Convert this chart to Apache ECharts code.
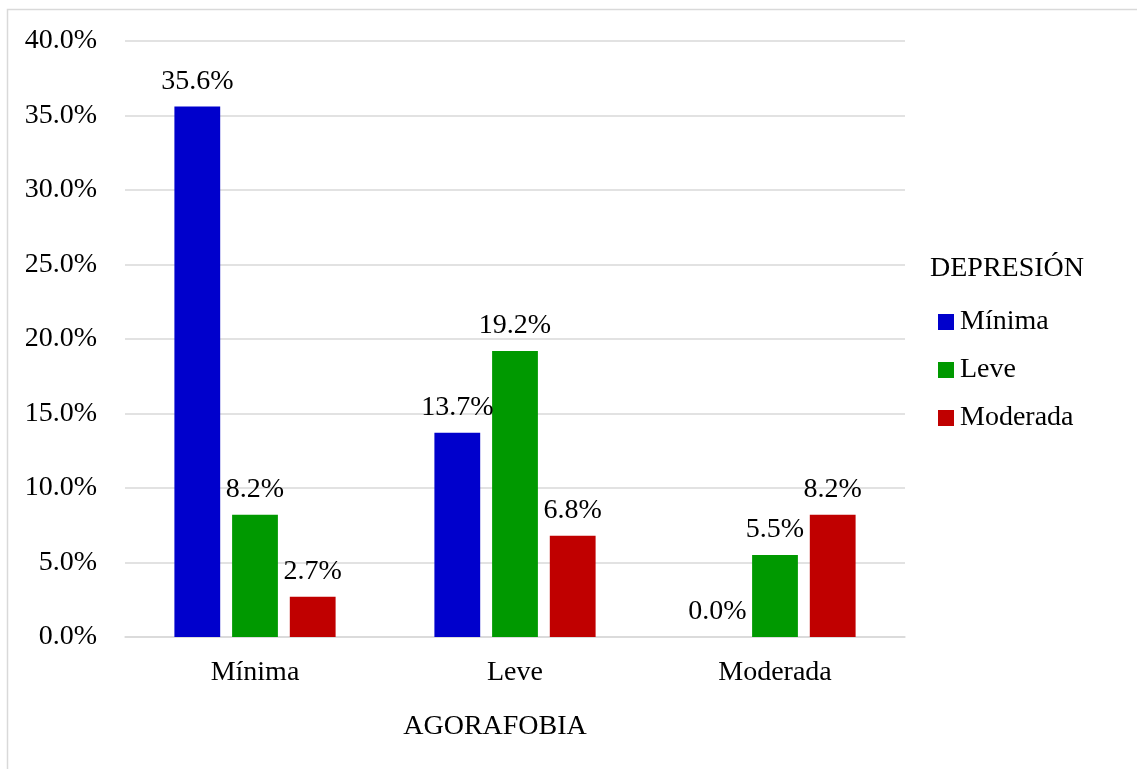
<!DOCTYPE html>
<html>
<head>
<meta charset="utf-8">
<script src="https://cdn.jsdelivr.net/npm/echarts@6/dist/echarts.min.js"></script>
<style>
  html, body { margin: 0; padding: 0; background: #fff; }
  #container { width: 1137px; height: 769px; }
</style>
</head>
<body>
<div id="container"></div>
<script>
// Datos
var categorias = ['Mínima', 'Leve', 'Moderada'];
var nivelesDepresion = ['Mínima', 'Leve', 'Moderada'];
var depMinima = [35.6, 13.7, 0.0];
var depLeve = [8.2, 19.2, 5.5];
var depModerada = [2.7, 6.8, 8.2];
var colores = ['#0000CC', '#009900', '#C00000'];

var fuente = '"Liberation Serif", "Times New Roman", serif';
var tam = 28;

document.addEventListener('DOMContentLoaded', function () {
    var dom = document.getElementById('container');
    var myChart = echarts.init(dom);

    function serie(nombre, datos) {
        return {
            name: nombre,
            type: 'bar',
            data: datos,
            barGap: '26%',
            barCategoryGap: '38%',
            label: {
                show: true,
                position: 'top',
                distance: 11,
                color: '#000',
                fontFamily: fuente,
                fontSize: tam,
                formatter: function (p) { return p.value.toFixed(1) + '%'; }
            }
        };
    }

    var option = {
        animation: false,
        color: colores,
        textStyle: { fontFamily: fuente },
        graphic: [{
            type: 'rect',
            shape: { x: 7.5, y: 9.5, width: 1140, height: 780 },
            style: { fill: 'none', stroke: '#d9d9d9', lineWidth: 1.5 }
        }],
        title: {
            text: 'DEPRESIÓN',
            left: 925,
            top: 250,
            textStyle: { fontFamily: fuente, fontSize: tam, fontWeight: 'normal', color: '#000' }
        },
        legend: {
            orient: 'vertical',
            left: 933,
            top: 303,
            itemWidth: 16,
            itemHeight: 16,
            itemGap: 20,
            icon: 'rect',
            data: nivelesDepresion,
            textStyle: { fontFamily: fuente, fontSize: tam, color: '#000', padding: [0, 0, 0, 1] }
        },
        grid: {
            left: 125,
            right: 232,
            top: 41,
            bottom: 132,
            containLabel: false
        },
        xAxis: {
            type: 'category',
            data: categorias,
            name: 'AGORAFOBIA',
            nameLocation: 'middle',
            nameGap: 76,
            nameTextStyle: { fontFamily: fuente, fontSize: tam, color: '#000', padding: [0, 0, 0, -40] },
            axisLine: { lineStyle: { color: '#d9d9d9', width: 1.5 } },
            axisTick: { show: false },
            axisLabel: { fontFamily: fuente, fontSize: tam, color: '#000', margin: 22 }
        },
        yAxis: {
            type: 'value',
            min: 0,
            max: 40,
            interval: 5,
            axisLine: { show: false },
            axisTick: { show: false },
            splitLine: { lineStyle: { color: '#d9d9d9', width: 1.5 } },
            axisLabel: {
                fontFamily: fuente,
                fontSize: tam,
                color: '#000',
                margin: 28,
                formatter: function (v) { return v.toFixed(1) + '%'; }
            }
        },
        series: [
            serie(nivelesDepresion[0], depMinima),
            serie(nivelesDepresion[1], depLeve),
            serie(nivelesDepresion[2], depModerada)
        ]
    };

    myChart.setOption(option);
    window.addEventListener('resize', myChart.resize);
});
</script>
</body>
</html>
